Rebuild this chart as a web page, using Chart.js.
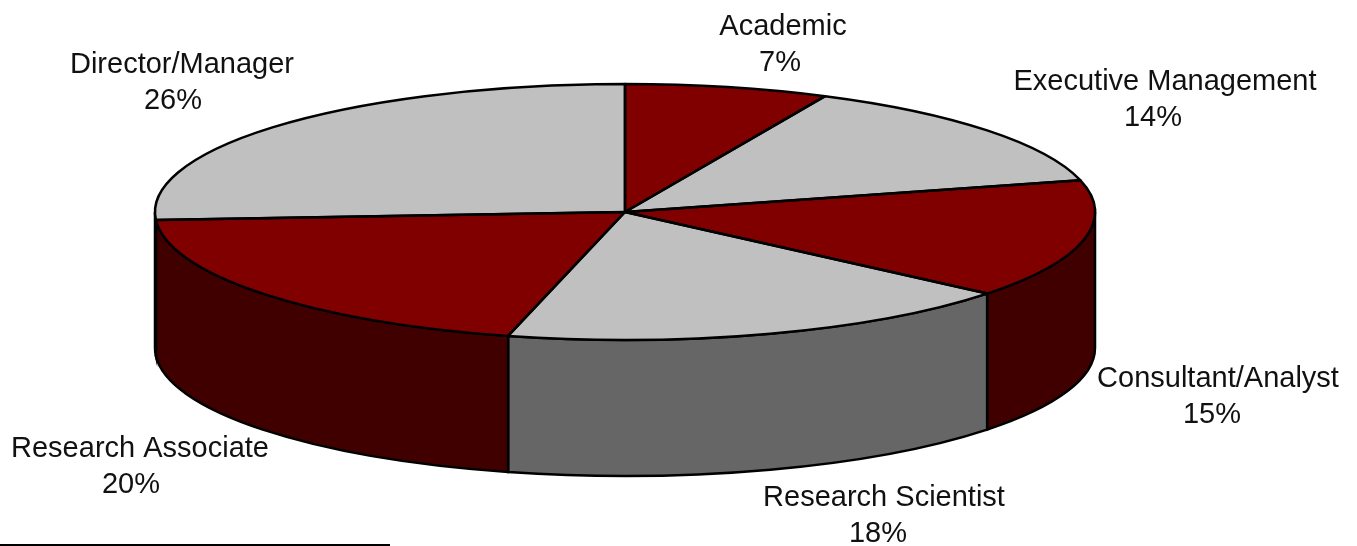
<!DOCTYPE html>
<html>
<head>
<meta charset="utf-8">
<title>Respondents by job function</title>
<script src="https://cdn.jsdelivr.net/npm/chart.js@4"></script>
<style>
    html, body { margin: 0; padding: 0; background: #fff; }
    #chart-pie { display: block; }
</style>
</head>
<body>
<canvas id="chart-pie" width="1357" height="546"></canvas>
<script>
const categories = ['Academic', 'Executive Management', 'Consultant/Analyst', 'Research Scientist', 'Research Associate', 'Director/Manager'];
const shares = [7, 14, 15, 18, 20, 26];

const topColors = ['#800000', '#c0c0c0', '#800000', '#c0c0c0', '#800000', '#c0c0c0'];
const sideColors = ['#400000', '#666666', '#400000', '#666666', '#400000', '#666666'];

// name centre x, percent centre x, first line y
const labelSpots = [[783, 780, 27], [1165, 1153, 82], [1218, 1212, 379], [884, 878, 498], [140, 131, 449], [182, 173, 65]];

// ellipse of the pie top and height of the wall
const pie = { x: 625, y: 212, rx: 470, ry: 128, depth: 136 };

function tracePoint(t, dy) {
    return [pie.x + pie.rx * Math.cos(t), pie.y + dy + pie.ry * Math.sin(t)];
}

function drawWalls(ctx, arcs) {
    arcs.forEach((arc, i) => {
        // only the front half of the rim (0..PI) can be seen
        const from = Math.max(arc.startAngle, 0);
        const to = Math.min(arc.endAngle, Math.PI);
        if (to <= from) return;
        const end = tracePoint(to, pie.depth);
        ctx.beginPath();
        ctx.ellipse(pie.x, pie.y, pie.rx, pie.ry, 0, from, to);
        ctx.lineTo(end[0], end[1]);
        ctx.ellipse(pie.x, pie.y + pie.depth, pie.rx, pie.ry, 0, to, from, true);
        ctx.closePath();
        ctx.fillStyle = sideColors[i];
        ctx.fill();
        ctx.lineWidth = 2.5;
        ctx.strokeStyle = '#000';
        ctx.stroke();
    });
}

function drawOutlines(ctx, arcs) {
    ctx.lineWidth = 2.5;
    ctx.strokeStyle = '#000';
    ctx.lineJoin = 'round';
    arcs.forEach(arc => {
        ctx.beginPath();
        ctx.moveTo(pie.x, pie.y);
        ctx.ellipse(pie.x, pie.y, pie.rx, pie.ry, 0, arc.startAngle, arc.endAngle);
        ctx.closePath();
        ctx.stroke();
    });
}

const pie3d = {
    id: 'pie3d',
    beforeDatasetsDraw(chart) {
        const ctx = chart.ctx;
        const arcs = chart.getDatasetMeta(0).data;
        drawWalls(ctx, arcs);
        // the library's circle is squashed onto the ellipse
        const first = arcs[0];
        ctx.save();
        ctx.translate(pie.x, pie.y);
        ctx.scale(pie.rx / first.outerRadius, pie.ry / first.outerRadius);
        ctx.translate(-first.x, -first.y);
    },
    afterDatasetsDraw(chart) {
        const ctx = chart.ctx;
        ctx.restore();
        drawOutlines(ctx, chart.getDatasetMeta(0).data);
    },
    afterDraw(chart) {
        const ctx = chart.ctx;
        ctx.save();
        ctx.font = '29px "Liberation Sans", Arial, sans-serif';
        ctx.fillStyle = '#111';
        ctx.textAlign = 'center';
        ctx.textBaseline = 'middle';
        categories.forEach((name, i) => {
            const spot = labelSpots[i];
            ctx.fillText(name, spot[0], spot[2]);
            ctx.fillText(shares[i] + '%', spot[1], spot[2] + 36);
        });
        // footnote rule along the bottom edge
        ctx.fillStyle = '#000';
        ctx.fillRect(0, 544, 390, 2);
        ctx.restore();
    }
};

new Chart(document.getElementById('chart-pie').getContext('2d'), {
    type: 'pie',
    data: {
        labels: categories,
        datasets: [{
            data: shares,
            backgroundColor: topColors,
            borderWidth: 0
        }]
    },
    options: {
        responsive: false,
        animation: false,
        events: [],
        plugins: {
            legend: { display: false },
            tooltip: { enabled: false }
        }
    },
    plugins: [pie3d]
});
</script>
</body>
</html>
